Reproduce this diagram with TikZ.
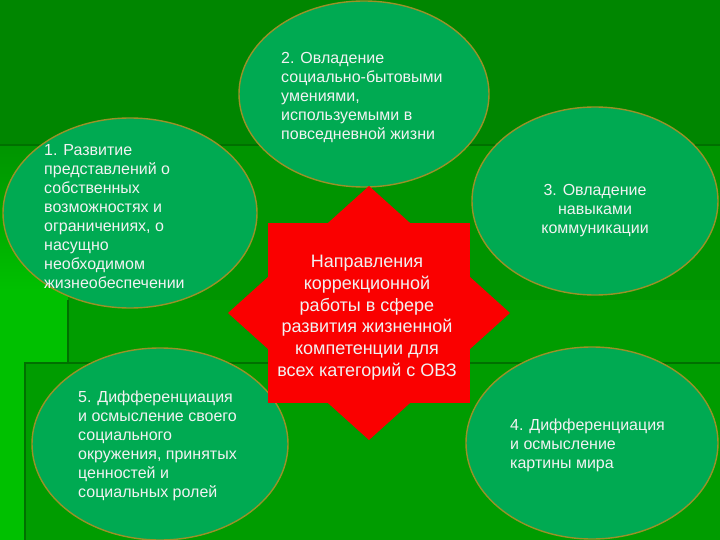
\documentclass[tikz,border=0pt]{standalone}
\usepackage{fontspec}
\setmainfont{Liberation Sans}
\usetikzlibrary{shapes.geometric}

\definecolor{bgtop}{RGB}{0,134,0}
\definecolor{bgleft}{RGB}{0,192,0}
\definecolor{bgright}{RGB}{0,148,0}
\definecolor{bgpanel}{RGB}{0,156,0}
\definecolor{bgedge}{RGB}{0,112,0}
\definecolor{bubblefill}{RGB}{0,170,82}
\definecolor{bubbleline}{RGB}{155,145,40}
\definecolor{starred}{RGB}{250,0,0}
\definecolor{textwhite}{RGB}{242,242,242}

\tikzset{
	bubble/.style={ellipse, draw=bubbleline, line width=1.4pt, fill=bubblefill, inner sep=0pt},
	bubbletext/.style={text=textwhite, inner sep=0pt, font=\fontsize{16}{19}\selectfont},
	startext/.style={text=textwhite, inner sep=0pt, align=center, font=\fontsize{18}{21.8}\selectfont},
}

\begin{document}
\begin{tikzpicture}[x=1pt, y=-1pt]
		\useasboundingbox (0,0) rectangle (720,540);
		% background of the slide
		\fill[bgright] (0,145) rectangle (720,540);
		\shade[top color=bgright, bottom color=bgleft] (0,145) rectangle (68,290);
		\fill[bgleft] (0,290) rectangle (68,540);
		\fill[bgtop] (0,0) rectangle (720,145);
		\fill[bgpanel] (68,300) rectangle (720,540);
		\fill[bgpanel] (25,363) rectangle (720,540);
		\draw[bgedge, line width=2pt] (0,145) -- (720,145);
		\draw[bgedge, line width=2pt] (68,300) -- (68,363) (25,540) -- (25,363) -- (720,363);

		% the five directions
		\node[bubble, minimum width=254pt, minimum height=190pt] (dir1) at (130,213) {};
		\node[bubble, minimum width=250pt, minimum height=186pt] (dir2) at (364,94) {};
		\node[bubble, minimum width=246pt, minimum height=188pt] (dir3) at (595,201) {};
		\node[bubble, minimum width=252pt, minimum height=192pt] (dir4) at (592,443) {};
		\node[bubble, minimum width=256pt, minimum height=192pt] (dir5) at (160,444) {};

		\node[bubbletext, align=left, anchor=north west] (txt1) at (44,144) {1. Развитие\\представлений о\\собственных\\возможностях и\\ограничениях, о\\насущно\\необходимом\\жизнеобеспечении};
		\node[bubbletext, align=left, anchor=north west] (txt2) at (281,52) {2. Овладение\\социально-бытовыми\\умениями,\\используемыми в\\повседневной жизни};
		\node[bubbletext, align=center, anchor=north] (txt3) at (595,184) {3. Овладение\\навыками\\коммуникации};
		\node[bubbletext, align=left, anchor=north west] (txt4) at (510,419) {4. Дифференциация\\и осмысление\\картины мира};
		\node[bubbletext, align=left, anchor=north west] (txt5) at (78,391) {5. Дифференциация\\и осмысление своего\\социального\\окружения, принятых\\ценностей и\\социальных ролей};

		% eight-point star in the middle
		\fill[starred] (268,223) rectangle (470,403);
		\fill[starred] (228,313) -- (369,186) -- (510,313) -- (369,440) -- cycle;
		\node[startext, anchor=north] (core) at (367,255) {Направления\\коррекционной\\работы в сфере\\развития жизненной\\компетенции для\\всех категорий с ОВЗ};
	\end{tikzpicture}
\end{document}
